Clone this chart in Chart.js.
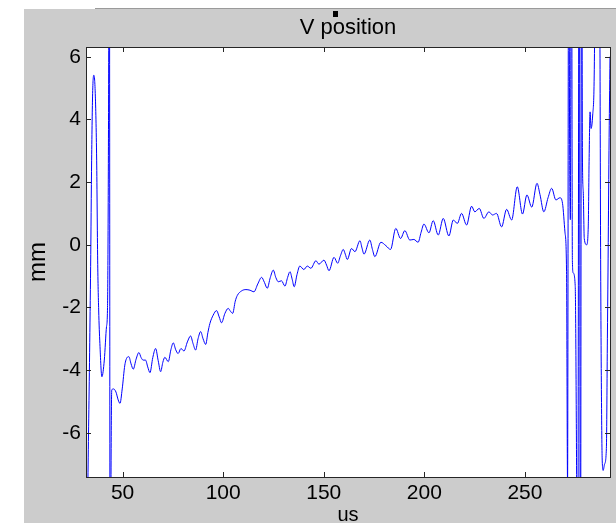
<!DOCTYPE html>
<html>
<head>
<meta charset="utf-8">
<script src="https://cdn.jsdelivr.net/npm/chart.js@4/dist/chart.umd.min.js"></script>
<style>
html,body{margin:0;padding:0;background:#fff;}
canvas{display:block;}
</style>
</head>
<body>
<canvas id="c" width="616" height="523"></canvas>
<script>
// time axis (us)
const timeUs = [
  31.9, 32.3, 33.1, 34.1, 34.6, 35.1, 35.7, 36.4, 37.1, 37.6, 38.1, 38.7, 39.7, 40.9, 42.0, 42.5, 43.0, 43.4, 43.8, 44.3,
  44.6, 45.5, 46.7, 47.8, 48.7, 49.8, 51.1, 52.2, 53.1, 54.2, 55.3, 56.7, 58.1, 59.2, 60.2, 61.4, 62.5, 63.6, 65.0, 66.4,
  67.7, 68.9, 70.0, 71.0, 72.7, 74.0, 75.2, 76.4, 77.6, 79.0, 80.5, 82.2, 83.8, 85.0, 86.3, 87.5, 88.8, 90.0, 91.3, 92.4,
  93.4, 95.0, 96.7, 98.0, 99.2, 100.8, 102.5, 103.6, 104.7, 106.0, 107.0, 109.2, 111.3, 113.3, 115.3, 117.2, 119.1, 120.5, 121.9, 123.4,
  124.9, 126.2, 127.4, 129.0, 130.7, 132.0, 133.2, 134.3, 135.3, 136.7, 138.1, 140.1, 141.8, 143.6, 146.1, 147.6, 150.1, 151.4, 152.6, 155.1,
  156.9, 158.3, 159.7, 160.7, 161.7, 163.8, 165.5, 168.0, 169.0, 170.0, 172.9, 174.2, 175.4, 178.4, 180.9, 183.2, 185.8, 188.2, 190.3, 192.8,
  194.8, 196.9, 198.4, 199.8, 202.3, 204.4, 206.9, 209.4, 212.2, 214.4, 216.4, 218.5, 221.0, 223.5, 225.1, 227.3, 229.6, 232.1, 233.9, 235.9,
  238.4, 240.9, 243.4, 246.2, 248.8, 251.0, 253.4, 256.0, 257.5, 259.4, 261.5, 263.3, 265.4, 267.4, 268.7, 269.9, 270.7, 271.2, 271.8, 272.2,
  272.6, 273.1, 273.6, 274.0, 275.0, 275.6, 276.2, 277.0, 277.6, 278.2, 278.6, 279.0, 279.5, 280.7, 281.5, 281.9, 282.4, 282.9, 283.7, 284.4,
  285.8, 287.3, 287.6, 288.0, 288.4, 288.9, 289.6, 290.5, 291.0, 291.3, 291.8, 292.3
];
// vertical position (mm)
const positionMm = [
  -7.0, -8.8, -5.81, -0.70, 2.70, 4.83, 5.41, 4.83, 2.70, -0.49, -2.08, -3.15, -4.21, -3.68, -2.61, -2.0, 3.97, 14, -14, -6.5,
  -4.63, -4.6, -4.7, -4.95, -5.06, -4.6, -3.84, -3.6, -3.57, -3.8, -3.97, -3.65, -3.44, -3.6, -3.68, -3.68, -3.9, -4.08, -3.6, -3.31,
  -3.7, -4.05, -3.75, -3.59, -3.73, -3.35, -3.13, -3.35, -3.47, -3.31, -3.39, -3.1, -2.91, -3.15, -3.36, -3.0, -2.77, -3.0, -3.18, -2.8,
  -2.51, -2.25, -2.10, -2.3, -2.49, -2.2, -2.03, -2.12, -2.19, -1.8, -1.62, -1.47, -1.43, -1.45, -1.50, -1.25, -1.04, -1.2, -1.39, -1.05,
  -0.81, -1.05, -1.18, -1.15, -1.32, -1.05, -0.86, -1.1, -1.34, -0.95, -0.68, -0.79, -0.68, -0.75, -0.51, -0.62, -0.49, -0.65, -0.83, -0.40,
  -0.59, -0.35, -0.15, -0.3, -0.47, -0.12, -0.22, 0.13, -0.1, -0.30, 0.15, -0.15, -0.38, 0.08, -0.03, -0.15, 0.52, 0.20, 0.45, 0.15,
  0.17, 0.08, 0.4, 0.66, 0.38, 0.77, 0.31, 0.84, 0.28, 0.79, 0.68, 1.00, 0.63, 1.23, 1.05, 1.16, 0.84, 1.05, 0.95, 1.00,
  0.57, 1.13, 0.79, 1.85, 0.98, 1.59, 1.2, 1.96, 1.6, 1.05, 1.5, 1.80, 1.43, 1.50, 1.32, 0.41, -0.86, -7.6, 14, 3.6,
  0.8, 14, -0.5, -0.9, -1.3, -6.1, -14, 14, -14, 14, 2.8, 1.7, 0.2, 0.0, 0.6, 2.65, 4.24, 3.71, 4.14, 5.2,
  14, 6.5, 0.3, -4.4, -6.8, -7.2, -7.0, -6.5, -3.0, -0.9, 3.0, 6.0
];
const xTicks = [50, 100, 150, 200, 250];
const yTicks = [-6, -4, -2, 0, 2, 4, 6];

const FONT = "'Liberation Sans', Arial, sans-serif";
const AXIS_COLOR = '#262626';
const TICK_LEN = 5;

const framePlugin = {
  id: 'frame',
  beforeDraw(chart) {
    const ctx = chart.ctx, a = chart.chartArea;
    ctx.save();
    ctx.fillStyle = '#ffffff';
    ctx.fillRect(0, 0, chart.width, chart.height);
    ctx.fillStyle = '#cccccc';
    ctx.fillRect(24, 9, chart.width - 24, chart.height - 9);
    ctx.fillStyle = '#9a9a9a';
    ctx.fillRect(95, 8, chart.width - 95, 1);
    ctx.fillStyle = '#ffffff';
    ctx.fillRect(a.left, a.top, a.right - a.left, a.bottom - a.top);
    ctx.restore();
  },
  afterDatasetsDraw(chart) {
    const ctx = chart.ctx, a = chart.chartArea;
    const xs = chart.scales.x, ys = chart.scales.y;
    ctx.save();
    ctx.strokeStyle = AXIS_COLOR;
    ctx.lineWidth = 1;
    ctx.beginPath();
    xTicks.forEach(v => {
      const px = Math.round(xs.getPixelForValue(v)) + 0.5;
      ctx.moveTo(px, a.bottom); ctx.lineTo(px, a.bottom - TICK_LEN);
      ctx.moveTo(px, a.top); ctx.lineTo(px, a.top + TICK_LEN);
    });
    yTicks.forEach(v => {
      const py = Math.round(ys.getPixelForValue(v)) + 0.5;
      ctx.moveTo(a.left, py); ctx.lineTo(a.left + TICK_LEN, py);
      ctx.moveTo(a.right, py); ctx.lineTo(a.right - TICK_LEN, py);
    });
    ctx.stroke();
    ctx.strokeRect(Math.round(a.left) + 0.5, Math.round(a.top) + 0.5,
                   Math.round(a.right - a.left), Math.round(a.bottom - a.top));
    ctx.fillStyle = '#000000';
    ctx.fillRect(333, 11, 5, 6);
    ctx.restore();
  }
};

new Chart(document.getElementById('c'), {
  type: 'line',
  data: {
    datasets: [{
      data: timeUs.map((t, i) => ({ x: t, y: positionMm[i] })),
      borderColor: '#0000ff',
      borderWidth: 1,
      pointRadius: 0,
      fill: false,
      cubicInterpolationMode: 'monotone'
    }]
  },
  options: {
    responsive: false,
    animation: false,
    events: [],
    layout: { padding: { left: 0, top: 0, right: 6, bottom: 0 } },
    plugins: {
      legend: { display: false },
      tooltip: { enabled: false },
      title: {
        display: true,
        fullSize: false,
        text: 'V position',
        color: '#000',
        font: { family: FONT, size: 22, weight: 'normal', lineHeight: 1 },
        padding: { top: 17, bottom: 8 }
      }
    },
    scales: {
      x: {
        type: 'linear',
        min: 31.8,
        max: 292.3,
        afterBuildTicks: s => { s.ticks = xTicks.map(v => ({ value: v })); },
        afterFit: s => { s.height = 46; },
        grid: { display: false, drawTicks: false },
        border: { display: false },
        ticks: { color: '#000', padding: 4, font: { family: FONT, size: 21 }, maxRotation: 0 },
        title: {
          display: true, text: 'us', color: '#000',
          font: { family: FONT, size: 20, lineHeight: 1 },
          padding: { top: 0, bottom: -2 }
        }
      },
      y: {
        type: 'linear',
        min: -7.41,
        max: 6.31,
        afterBuildTicks: s => { s.ticks = yTicks.map(v => ({ value: v })); },
        afterFit: s => { s.width = 86; },
        grid: { display: false, drawTicks: false },
        border: { display: false },
        ticks: { color: '#000', padding: 5, font: { family: FONT, size: 21 } },
        title: {
          display: true, text: 'mm', color: '#000',
          font: { family: FONT, size: 24, lineHeight: 1 },
          padding: { top: 26, bottom: 0 }
        }
      }
    }
  },
  plugins: [framePlugin]
});
</script>
</body>
</html>
